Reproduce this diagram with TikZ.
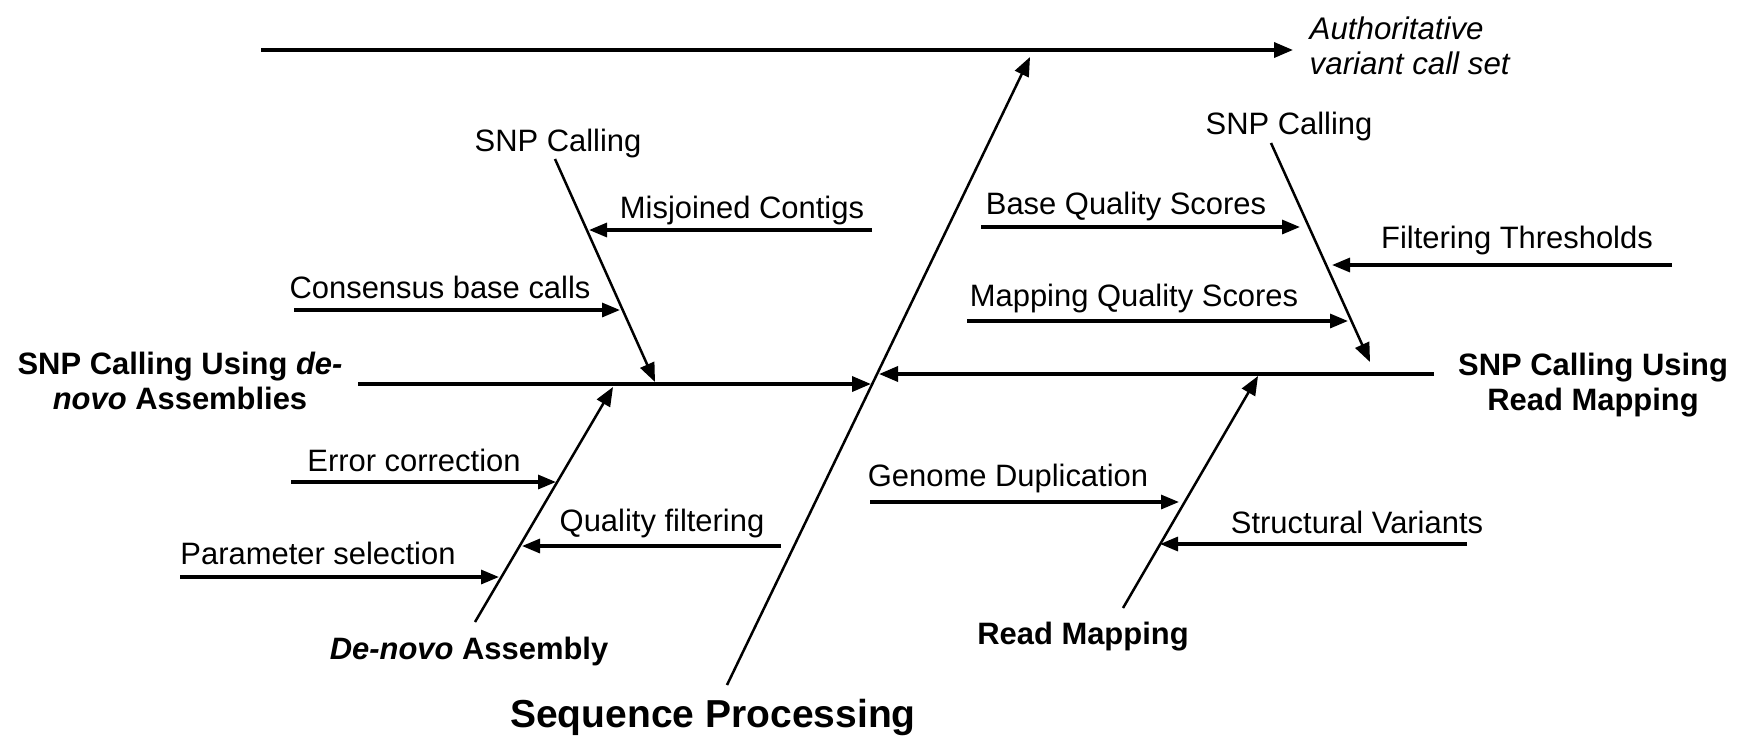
\documentclass[tikz,border=0pt]{standalone}
\usepackage{fontspec}
\setmainfont{Liberation Sans}
\usetikzlibrary{arrows.meta}
\begin{document}
\begin{tikzpicture}[x=0.1mm,y=-0.1mm,
  lbl/.style={inner sep=0pt, anchor=base, font=\fontsize{8.8}{9.8}\selectfont},
  head/.style={inner sep=0pt, align=center, font=\bfseries\fontsize{8.8}{9.8}\selectfont},
  bone/.style={line width=0.35mm, -{Triangle[length=1.9mm,width=1.5mm]}},
  rib/.style={line width=0.25mm, -{Triangle[length=1.9mm,width=1.5mm]}},
  cause/.style={line width=0.32mm, -{Triangle[length=1.8mm,width=1.4mm]}},
]
\useasboundingbox (0,0) rectangle (1737,735);

% ---- outcome line at the top
\coordinate (topstart) at (261,50);
\coordinate (topend) at (1293,50);
\draw[bone] (topstart) -- (topend);
\node[inner sep=0pt, anchor=north west, align=left,
      font=\itshape\fontsize{8.9}{10}\selectfont] (goal) at (1309,16)
  {Authoritative\\variant call set};

% ---- central spine: sequence processing
\coordinate (spbot) at (727,685);
\coordinate (sptop) at (1030,57);
\draw[rib] (spbot) -- (sptop);
\node[lbl, font=\bfseries\fontsize{11.1}{12}\selectfont] (seq) at (713,727) {Sequence Processing};

% ---- horizontal bones feeding the spine
\coordinate (lmain) at (358,384);
\coordinate (lhit) at (871,384);
\draw[bone] (lmain) -- (lhit);
\coordinate (rmain) at (1434,374);
\coordinate (rhit) at (879,374);
\draw[bone] (rmain) -- (rhit);
\node[head] (denovohead) at (180,381) {SNP Calling Using \textit{de-}\\\textit{novo} Assemblies};
\node[head] (maphead) at (1593,385) {SNP Calling Using\\Read Mapping};

% ---- upper left rib: SNP calling on assemblies
\coordinate (a1) at (555,159);
\coordinate (a2) at (655,382);
\draw[rib] (a1) -- (a2);
\node[lbl] (snpL) at (558,151) {SNP Calling};
\coordinate (mis0) at (872,230);
\coordinate (mis1) at (589,230);
\draw[cause] (mis0) -- (mis1);
\node[lbl] (misL) at (742,218) {Misjoined Contigs};
\coordinate (con0) at (294,310);
\coordinate (con1) at (620,310);
\draw[cause] (con0) -- (con1);
\node[lbl] (conL) at (440,298) {Consensus base calls};

% ---- lower left rib: de-novo assembly
\coordinate (b1) at (475,622);
\coordinate (b2) at (613,387);
\draw[rib] (b1) -- (b2);
\node[lbl, font=\bfseries\fontsize{8.8}{9.8}\selectfont] (asmL) at (469,659) {\textit{De-novo} Assembly};
\coordinate (err0) at (291,482);
\coordinate (err1) at (556,482);
\draw[cause] (err0) -- (err1);
\node[lbl] (errL) at (414,471) {Error correction};
\coordinate (qf0) at (781,546);
\coordinate (qf1) at (522,546);
\draw[cause] (qf0) -- (qf1);
\node[lbl] (qfL) at (662,531) {Quality filtering};
\coordinate (par0) at (180,577);
\coordinate (par1) at (499,577);
\draw[cause] (par0) -- (par1);
\node[lbl] (parL) at (318,564) {Parameter selection};

% ---- upper right rib: SNP calling on mapped reads
\coordinate (c1) at (1271,143);
\coordinate (c2) at (1370,362);
\draw[rib] (c1) -- (c2);
\node[lbl] (snpR) at (1289,134) {SNP Calling};
\coordinate (bq0) at (981,227);
\coordinate (bq1) at (1300,227);
\draw[cause] (bq0) -- (bq1);
\node[lbl] (bqL) at (1126,214) {Base Quality Scores};
\coordinate (ft0) at (1672,265);
\coordinate (ft1) at (1332,265);
\draw[cause] (ft0) -- (ft1);
\node[lbl] (ftL) at (1517,248) {Filtering Thresholds};
\coordinate (mq0) at (967,321);
\coordinate (mq1) at (1348,321);
\draw[cause] (mq0) -- (mq1);
\node[lbl] (mqL) at (1134,306) {Mapping Quality Scores};

% ---- lower right rib: read mapping
\coordinate (d1) at (1123,608);
\coordinate (d2) at (1258,376);
\draw[rib] (d1) -- (d2);
\node[lbl, font=\bfseries\fontsize{8.8}{9.8}\selectfont] (rmL) at (1083,644) {Read Mapping};
\coordinate (gd0) at (870,502);
\coordinate (gd1) at (1179,502);
\draw[cause] (gd0) -- (gd1);
\node[lbl] (gdL) at (1008,486) {Genome Duplication};
\coordinate (sv0) at (1467,544);
\coordinate (sv1) at (1160,544);
\draw[cause] (sv0) -- (sv1);
\node[lbl] (svL) at (1357,533) {Structural Variants};
\end{tikzpicture}
\end{document}
